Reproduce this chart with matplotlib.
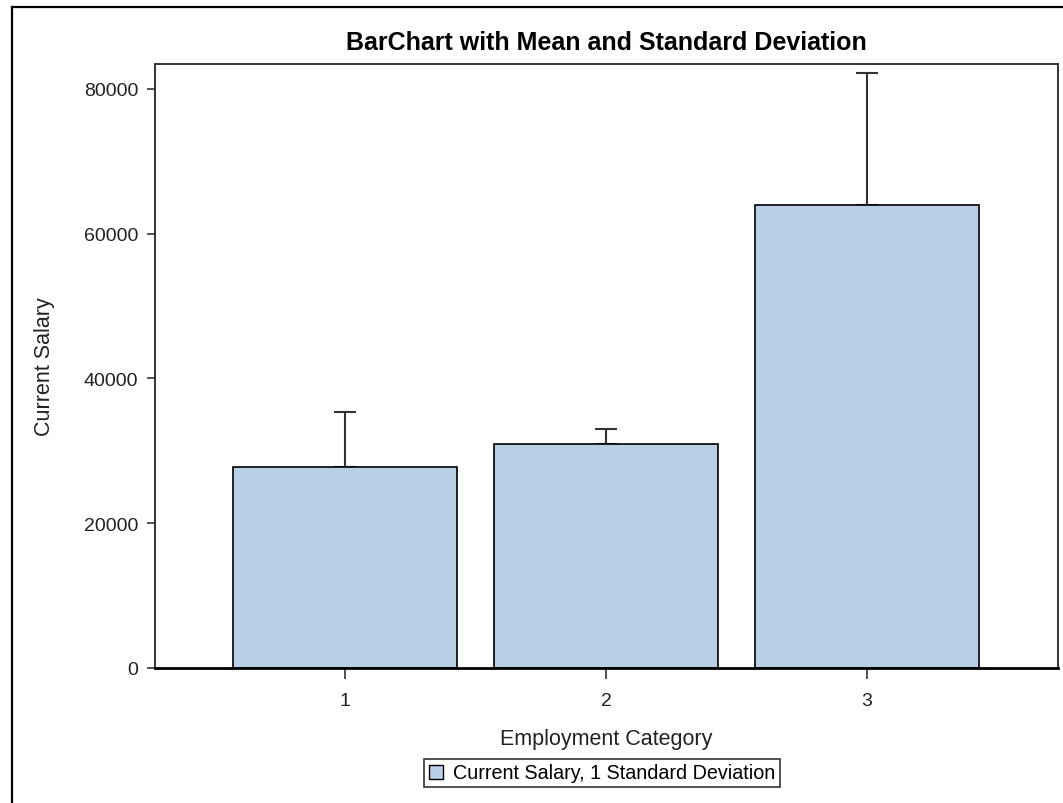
import matplotlib
matplotlib.use("Agg")
import matplotlib.pyplot as plt
from matplotlib.patches import Patch
from matplotlib.lines import Line2D

categories = ["1", "2", "3"]
means = [27838.54, 30938.89, 63977.80]
sds = [7567.995, 2114.616, 18244.776]
yticks = [0, 20000, 40000, 60000, 80000]

plt.rcParams['font.family'] = ['Liberation Sans', 'DejaVu Sans']

W, H = 1063, 804
fig = plt.figure(figsize=(W / 100, H / 100), dpi=100)
ax = fig.add_axes([155 / W, 1 - 669 / H, (1058 - 155) / W, (669 - 65) / H])

x = list(range(1, len(categories) + 1))
bar_color = "#B9CFE6"
ax.bar(x, means, width=0.857, color=bar_color, edgecolor="black", linewidth=1.2, zorder=2)
ax.errorbar(x, means, yerr=[[0] * len(sds), sds], fmt="none", ecolor="#333333",
            elinewidth=1.5, capsize=8, capthick=1.5, zorder=1)

ax.set_xlim(1 - 190 / 261, 3 + 191 / 261)
ax.set_ylim(0, 83454)
ax.set_xticks(x)
ax.set_xticklabels(categories)
ax.set_yticks(yticks)
ax.set_yticklabels([str(v) for v in yticks])
ax.tick_params(axis="x", length=8, width=1.2, labelsize=14, pad=9, colors="#333333", labelcolor="#222222")
ax.tick_params(axis="y", length=6, width=1.2, labelsize=14, pad=6, colors="#333333", labelcolor="#222222")
for s in ax.spines.values():
    s.set_linewidth(1.4)
    s.set_color("#333333")
ax.spines["bottom"].set_color("black")
ax.spines["bottom"].set_linewidth(2)

ax.set_xlabel("Employment Category", fontsize=15.5, color="#222222")
ax.xaxis.set_label_coords(0.5, -0.099)
ax.set_ylabel("Current Salary", fontsize=15.5, color="#222222")
ax.yaxis.set_label_coords(-0.111, 0.5)
fig.text(606 / W, 1 - 43 / H, "BarChart with Mean and Standard Deviation",
         ha="center", va="center", fontsize=18, fontweight="bold")

handle = Patch(facecolor=bar_color, edgecolor="black", linewidth=1)
leg = fig.legend([handle], ["Current Salary, 1 Standard Deviation"], loc="center",
                 bbox_to_anchor=(602 / W, 1 - 774 / H), frameon=True, fancybox=False,
                 fontsize=14.2, handlelength=0.7, handleheight=0.7, handletextpad=0.5,
                 borderpad=0.25, borderaxespad=0)
leg.get_frame().set_edgecolor("black")
leg.get_frame().set_linewidth(1.2)

# outer graph border (left and top visible)
fig.add_artist(Line2D([12 / W, 12 / W], [0, 1 - 8 / H], transform=fig.transFigure,
                      color="black", linewidth=1.6))
fig.add_artist(Line2D([12 / W, 1], [1 - 8 / H, 1 - 8 / H], transform=fig.transFigure,
                      color="black", linewidth=1.6))

fig.savefig("out.png", dpi=100)
